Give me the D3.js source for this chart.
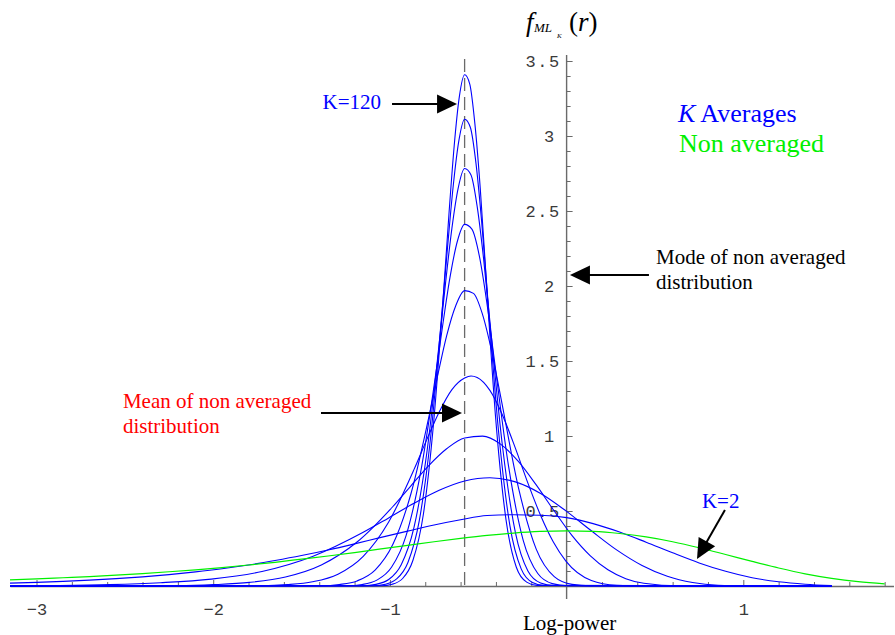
<!DOCTYPE html>
<html><head><meta charset="utf-8">
<script src="https://cdn.jsdelivr.net/npm/d3@7"></script>
<style>body{margin:0;background:#fff}svg{display:block}</style>
</head><body>
<svg id="c" width="895" height="635"></svg>
<script>
// ---- data (log-power r, density f) ----
const nonAveraged = [[-3.15,0.041],[-3.0,0.047],[-2.85,0.055],[-2.7,0.063],[-2.55,0.072],[-2.4,0.083],[-2.25,0.095],[-2.1,0.108],[-1.95,0.123],[-1.8,0.140],[-1.65,0.158],[-1.5,0.179],[-1.35,0.200],[-1.2,0.223],[-1.05,0.247],[-0.9,0.271],[-0.75,0.295],[-0.6,0.317],[-0.45,0.337],[-0.3,0.353],[-0.15,0.364],[0,0.368],[0.15,0.364],[0.3,0.350],[0.45,0.327],[0.6,0.295],[0.75,0.255],[0.9,0.210],[1.05,0.164],[1.2,0.120],[1.35,0.081],[1.5,0.051],[1.65,0.029],[1.8,0.014]];
const k2 = [[-3.15,0.019],[-3.0,0.024],[-2.85,0.031],[-2.7,0.039],[-2.55,0.049],[-2.4,0.061],[-2.25,0.076],[-2.1,0.094],[-1.95,0.115],[-1.8,0.140],[-1.65,0.170],[-1.5,0.203],[-1.35,0.240],[-1.2,0.281],[-1.05,0.324],[-0.9,0.366],[-0.75,0.407],[-0.6,0.442],[-0.45,0.470],[-0.3,0.475],[-0.15,0.472],[0,0.456],[0.15,0.416],[0.3,0.360],[0.45,0.292],[0.6,0.221],[0.75,0.154],[0.9,0.098],[1.05,0.055],[1.2,0.028],[1.35,0.012],[1.5,0.003]];
const k5 = [[-3.15,0.001],[-2.87,0.003],[-2.585,0.009],[-2.298,0.022],[-2.011,0.046],[-1.724,0.097],[-1.438,0.197],[-1.151,0.358],[-1.007,0.454],[-0.864,0.551],[-0.721,0.638],[-0.577,0.700],[-0.434,0.722],[-0.290,0.694],[-0.147,0.617],[-0.004,0.501],[0.140,0.368],[0.283,0.241],[0.427,0.137],[0.570,0.065],[0.713,0.023],[0.857,0.004],[1.0,0.0],[1.5,0]];
const k10 = [[-3.15,0],[-2.402,0.001],[-2.200,0.002],[-1.997,0.009],[-1.794,0.024],[-1.591,0.060],[-1.388,0.140],[-1.186,0.293],[-0.983,0.530],[-0.881,0.668],[-0.780,0.803],[-0.679,0.915],[-0.577,0.987],[-0.476,0.999],[-0.374,0.946],[-0.273,0.831],[-0.172,0.674],[-0.070,0.500],[0.031,0.336],[0.133,0.203],[0.234,0.108],[0.335,0.049],[0.437,0.018],[0.640,0.001],[1.5,0]];
const k20 = [[-3.15,0],[-1.724,0.002],[-1.581,0.009],[-1.438,0.028],[-1.294,0.079],[-1.151,0.198],[-1.007,0.427],[-0.864,0.776],[-0.792,0.974],[-0.721,1.160],[-0.649,1.309],[-0.577,1.386],[-0.541,1.400],[-0.506,1.390],[-0.434,1.304],[-0.362,1.137],[-0.290,0.919],[-0.219,0.686],[-0.147,0.470],[-0.075,0.293],[-0.004,0.166],[0.140,0.037],[0.283,0.005],[0.427,0],[1.5,0]];
const k40 = [[-3.15,0],[-1.388,0.002],[-1.287,0.010],[-1.186,0.034],[-1.084,0.106],[-0.983,0.278],[-0.881,0.615],[-0.780,1.124],[-0.729,1.407],[-0.679,1.668],[-0.628,1.867],[-0.577,1.969],[-0.527,1.951],[-0.476,1.811],[-0.425,1.570],[-0.374,1.268],[-0.273,0.658],[-0.172,0.246],[-0.070,0.063],[0.031,0.011],[0.133,0.001],[1.5,0]];
const k60 = [[-3.15,0],[-1.240,0.002],[-1.157,0.010],[-1.074,0.039],[-0.991,0.125],[-0.908,0.338],[-0.826,0.759],[-0.743,1.392],[-0.701,1.740],[-0.660,2.057],[-0.619,2.295],[-0.577,2.411],[-0.536,2.379],[-0.494,2.201],[-0.453,1.903],[-0.412,1.535],[-0.329,0.802],[-0.246,0.306],[-0.163,0.083],[-0.081,0.016],[0.002,0.002],[1.5,0]];
const k80 = [[-3.15,0],[-1.151,0.002],[-1.079,0.011],[-1.007,0.043],[-0.936,0.142],[-0.864,0.389],[-0.792,0.880],[-0.721,1.618],[-0.685,2.021],[-0.649,2.386],[-0.613,2.656],[-0.577,2.783],[-0.541,2.740],[-0.506,2.529],[-0.470,2.184],[-0.434,1.761],[-0.362,0.923],[-0.290,0.357],[-0.219,0.100],[-0.147,0.020],[-0.075,0.003],[1.5,0]];
const k100 = [[-3.15,0],[-1.090,0.002],[-1.026,0.012],[-0.962,0.047],[-0.898,0.157],[-0.834,0.434],[-0.770,0.987],[-0.706,1.817],[-0.673,2.269],[-0.641,2.675],[-0.609,2.974],[-0.577,3.112],[-0.545,3.058],[-0.513,2.819],[-0.481,2.432],[-0.449,1.960],[-0.385,1.030],[-0.321,0.402],[-0.257,0.114],[-0.193,0.023],[-0.128,0.003],[1.5,0]];
const k120 = [[-3.15,0],[-1.046,0.002],[-0.987,0.012],[-0.928,0.050],[-0.870,0.170],[-0.811,0.475],[-0.753,1.083],[-0.694,1.997],[-0.665,2.493],[-0.636,2.937],[-0.607,3.262],[-0.577,3.408],[-0.548,3.346],[-0.519,3.081],[-0.489,2.656],[-0.460,2.140],[-0.402,1.126],[-0.343,0.443],[-0.285,0.127],[-0.226,0.026],[-0.168,0.004],[1.5,0]];
const averagedSeries = [k2, k5, k10, k20, k40, k60, k80, k100, k120];
const meanNonAveraged = -0.5772;
const xTickLabels = [-3, -2, -1, 1];
const yTickLabels = [0.5, 1, 1.5, 2, 2.5, 3, 3.5];

// ---- scales ----
const svg = d3.select('#c');
const x = d3.scaleLinear().domain([-3.15, 1.85]).range([10, 893.5]);
const y = d3.scaleLinear().domain([0, 3.5]).range([586, 61]);
const AX = '#6a6a6a';
const tickFont = "'Liberation Mono', 'DejaVu Sans Mono', monospace";
const fmt = d3.format('~g');

// ---- x axis ----
const xMinor = d3.range(-15, 10).map(i => i / 5).filter(v => Math.abs(v - Math.round(v)) > 1e-6);
const gx1 = svg.append('g').attr('transform', `translate(0,${y(0)})`)
  .call(d3.axisBottom(x).tickValues(xMinor).tickSizeInner(-4).tickSizeOuter(0).tickFormat(''));
const gx2 = svg.append('g').attr('transform', `translate(0,${y(0)})`)
  .call(d3.axisBottom(x).tickValues(xTickLabels).tickSizeInner(-6).tickSizeOuter(0).tickPadding(17).tickFormat(fmt));
gx2.select('.domain').remove();
[gx1, gx2].forEach(g => {
  g.selectAll('.domain').attr('stroke', AX).attr('stroke-width', 1.4);
  g.selectAll('.tick line').attr('stroke', AX).attr('stroke-width', 1);
});
gx2.selectAll('.tick text').attr('font-family', tickFont).attr('font-size', 17).attr('fill', '#3a3a3a');

// ---- y axis ----
const yMinor = d3.range(1, 36).map(i => i / 10).filter(v => Math.abs(v * 2 - Math.round(v * 2)) > 1e-6);
const gy1 = svg.append('g').attr('transform', `translate(${x(0)},0)`)
  .call(d3.axisLeft(y).tickValues(yMinor).tickSizeInner(-4).tickSizeOuter(0).tickFormat(''));
const gy2 = svg.append('g').attr('transform', `translate(${x(0)},0)`)
  .call(d3.axisLeft(y).tickValues(yTickLabels).tickSizeInner(-6).tickSizeOuter(0).tickPadding(6).tickFormat(fmt));
gy1.select('.domain').remove();
gy2.select('.domain').remove();
svg.append('line').attr('x1', x(0)).attr('x2', x(0)).attr('y1', y(3.54)).attr('y2', y(-0.087))
  .attr('stroke', AX).attr('stroke-width', 1.4);
[gy1, gy2].forEach(g => g.selectAll('.tick line').attr('stroke', AX).attr('stroke-width', 1));
gy2.selectAll('.tick text').attr('font-family', tickFont).attr('font-size', 17).attr('fill', '#3a3a3a')
  .attr('letter-spacing', 1.5)
  .attr('dx', d => Number.isInteger(d) ? -5 : 0);

// ---- mean dashed line ----
svg.append('line').attr('x1', x(meanNonAveraged)).attr('x2', x(meanNonAveraged))
  .attr('y1', y(3.513)).attr('y2', y(0))
  .attr('stroke', '#6a6a6a').attr('stroke-width', 1.3).attr('stroke-dasharray', '13,6');

// ---- curves ----
const line = d3.line().x(d => x(d[0])).y(d => y(d[1])).curve(d3.curveMonotoneX);
svg.append('g').selectAll('path').data(averagedSeries).join('path')
  .attr('d', line).attr('fill', 'none').attr('stroke', '#0000ff').attr('stroke-width', 1.1);
svg.append('path').datum(nonAveraged).attr('d', line).attr('fill', 'none')
  .attr('stroke', '#00f000').attr('stroke-width', 1.2);

// ---- annotations ----
function arrow(x1, y1, x2, y2) {
  const px1 = x(x1), py1 = y(y1), px2 = x(x2), py2 = y(y2);
  const dx = px2 - px1, dy = py2 - py1, L = Math.hypot(dx, dy);
  const ux = dx / L, uy = dy / L, hl = 20, hw = 9.5;
  const bx = px2 - ux * hl, by = py2 - uy * hl;
  svg.append('line').attr('x1', px1).attr('y1', py1).attr('x2', bx + ux * 2).attr('y2', by + uy * 2)
    .attr('stroke', '#000').attr('stroke-width', 2);
  svg.append('path').attr('d', `M${px2},${py2}L${bx - uy * hw},${by + ux * hw}L${bx + uy * hw},${by - ux * hw}Z`)
    .attr('fill', '#000');
}
const serif = "'Liberation Serif', 'Times New Roman', serif";
function label(txt, xv, yv, color, size) {
  return svg.append('text').attr('x', x(xv)).attr('y', y(yv)).attr('fill', color)
    .attr('font-family', serif).attr('font-size', size).text(txt);
}
arrow(-0.988, 3.213, -0.620, 3.213);
label('K=120', -1.381, 3.18, '#0000ff', 21);

arrow(-1.390, 1.153, -0.592, 1.153);
label('Mean of non averaged', -2.511, 1.187, '#ff0000', 21);
label('distribution', -2.511, 1.020, '#ff0000', 21);

arrow(0.466, 2.073, 0.019, 2.073);
label('Mode of non averaged', 0.506, 2.147, '#000', 21);
label('distribution', 0.506, 1.980, '#000', 21);

arrow(0.896, 0.507, 0.738, 0.180);
label('K=2', 0.766, 0.52, '#0000ff', 21);

const lg = svg.append('text').attr('x', x(0.630)).attr('y', y(3.093)).attr('fill', '#0000ff')
  .attr('font-family', serif).attr('font-size', 26);
lg.append('tspan').attr('font-style', 'italic').text('K');
lg.append('tspan').text(' Averages');
label('Non averaged', 0.636, 2.893, '#00f000', 26);

// axis titles
svg.append('text').attr('x', x(0) + 3).attr('y', 630).attr('text-anchor', 'middle')
  .attr('font-family', serif).attr('font-size', 21).attr('fill', '#000').text('Log-power');
const t = svg.append('g').attr('font-family', serif).attr('fill', '#000');
t.append('text').attr('x', 526).attr('y', 31).attr('font-size', 27).attr('font-style', 'italic').text('f');
t.append('text').attr('x', 534).attr('y', 32).attr('font-size', 13).attr('font-style', 'italic').text('ML');
t.append('text').attr('x', 557).attr('y', 38).attr('font-size', 7).attr('font-style', 'italic').text('K');
const tr = t.append('text').attr('x', 569).attr('y', 31).attr('font-size', 27);
tr.append('tspan').text('(');
tr.append('tspan').attr('font-style', 'italic').text('r');
tr.append('tspan').text(')');
</script>
</body></html>
